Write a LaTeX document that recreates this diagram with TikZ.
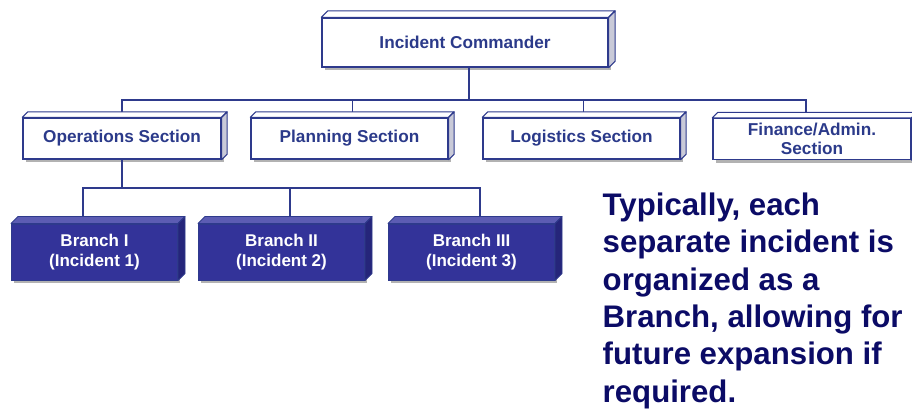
\documentclass[tikz,border=0pt]{standalone}
\usepackage{fontspec}
\setmainfont{Liberation Sans}
\usetikzlibrary{shadows}
\definecolor{navy}{HTML}{2E3A8C}
\definecolor{boxtext}{HTML}{2B3A8A}
\definecolor{bigtext}{HTML}{0B0B66}
\definecolor{branchfill}{HTML}{333399}
\definecolor{branchtop}{HTML}{5C5CB3}
\definecolor{branchside}{HTML}{25257A}
\definecolor{sidegray}{HTML}{C9CAD8}
\begin{document}
\begin{tikzpicture}[x=1pt,y=-1pt,
  shade3d/.style={drop shadow={shadow xshift=2.5pt,shadow yshift=-3pt,opacity=0.3,fill=black}},
  wbox/.style={draw=navy,line width=1.3pt,fill=white,inner sep=0pt,align=center,
    font=\bfseries\fontsize{17.2}{18.5}\selectfont,text=boxtext,shade3d},
  bbox/.style={draw=navy,line width=1pt,fill=branchfill,inner sep=0pt,align=center,
    font=\bfseries\fontsize{17}{19.5}\selectfont,text=white,shade3d,
    minimum width=166pt,minimum height=56pt},
  secbox/.style={wbox,minimum width=198pt,minimum height=41pt},
  conn/.style={draw=navy,line width=1.3pt},
  bigtxt/.style={font=\bfseries\fontsize{31.2}{37.4}\selectfont,text=bigtext,align=left,inner sep=0pt,anchor=north west}]
\useasboundingbox (0,0) rectangle (912,409);
\coordinate (bus1) at (469,100);
\coordinate (bus2) at (122,188);
% nodes
\node[wbox,minimum width=286pt,minimum height=49pt] (ic) at (465,42.5) {Incident Commander};
\node[secbox] (ops) at (122,138.5) {Operations Section};
\node[secbox,minimum width=197pt] (plan) at (349.5,138.5) {Planning Section};
\node[secbox,minimum width=197pt] (log) at (581.5,138.5) {Logistics Section};
\node[secbox] (fin) at (812,139) {Finance/Admin.\\Section};
\node[bbox] (b1) at (94.5,252) {Branch I\\(Incident 1)};
\node[bbox] (b2) at (281.5,252) {Branch II\\(Incident 2)};
\node[bbox] (b3) at (471.5,252) {Branch III\\(Incident 3)};
% connectors
\begin{scope}[conn]
\draw ([xshift=4pt]ic.south) -- (bus1);
\draw (bus1) -| ([yshift=5pt]ops.north);
\draw (bus1) -| ([xshift=3pt,yshift=5pt]plan.north);
\draw (bus1) -| ([xshift=2pt,yshift=5pt]log.north);
\draw (bus1) -| ([xshift=-6pt,yshift=5pt]fin.north);
\draw (ops.south) -- (bus2);
\draw (bus2) -| ([xshift=-11.5pt,yshift=7pt]b1.north);
\draw (bus2) -| ([xshift=8.5pt,yshift=7pt]b2.north);
\draw (bus2) -| ([xshift=8.5pt,yshift=7pt]b3.north);
\end{scope}
% bevels of white boxes
\foreach \n/\d in {ic/6.5,ops/5.5,plan/5.5,log/5.5,fin/5.5}{
  \filldraw[draw=navy,line width=1.1pt,fill=white,line join=round]
    (\n.north west) -- ++(\d,-\d) -- ([xshift=\d pt,yshift=\d pt]\n.north east) -- (\n.north east) -- cycle;
  \filldraw[draw=navy,line width=1.1pt,fill=sidegray,line join=round]
    (\n.north east) -- ++(\d,-\d) -- ([xshift=\d pt,yshift=\d pt]\n.south east) -- (\n.south east) -- cycle;
}
% bevels of branch boxes
\foreach \n in {b1,b2,b3}{
  \filldraw[draw=navy,line width=0.8pt,fill=branchtop,line join=round]
    (\n.north west) -- ++(7,-7) -- ([xshift=7pt,yshift=7pt]\n.north east) -- (\n.north east) -- cycle;
  \filldraw[draw=navy,line width=0.8pt,fill=branchside,line join=round]
    (\n.north east) -- ++(7,-7) -- ([xshift=7pt,yshift=7pt]\n.south east) -- (\n.south east) -- cycle;
}
% the side text
\node[bigtxt] (note) at (602.5,192.5) {Typically, each\\separate incident is\\organized as a\\Branch, allowing for\\future expansion if\\required.};
\end{tikzpicture}
\end{document}
